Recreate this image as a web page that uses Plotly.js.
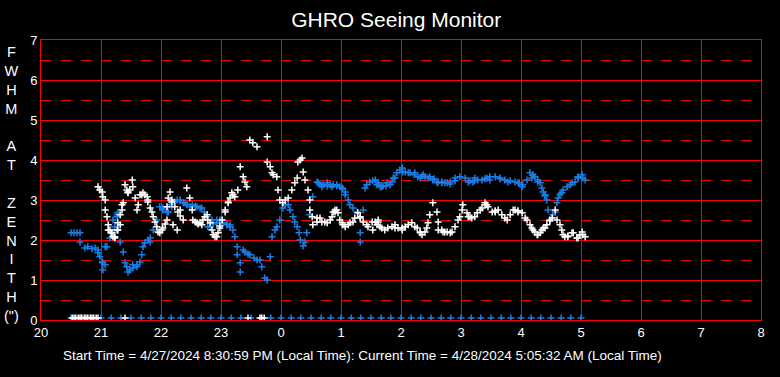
<!DOCTYPE html>
<html>
<head>
<meta charset="utf-8">
<script src="https://cdn.plot.ly/plotly-3.0.1.min.js"></script>
<style>html,body{margin:0;padding:0;background:#000;}#chart{width:780px;height:377px;}</style>
</head>
<body>
<div id="chart"></div>
<script>
// Hours since 20:00 continue past midnight (24 = 0h, 29 = 5h)
var blueTime = [20.5,20.55,20.6,20.65,20.65,20.73,20.78,20.85,20.9,20.95,20.95,20.98,21.03,21.03,21.07,21.1,21.15,21.2,21.23,21.27,21.28,21.32,21.37,21.4,21.45,21.48,21.53,21.6,21.65,21.68,21.73,21.78,21.82,21.87,21.93,21.98,22.03,22.1,22.15,22.22,22.27,22.32,22.37,22.43,22.48,22.57,22.65,22.72,22.77,22.82,22.87,22.93,22.98,23.03,23.1,23.15,23.2,23.23,23.27,23.27,23.32,23.32,23.37,23.4,23.45,23.48,23.55,23.6,23.65,23.68,23.73,23.77,23.82,23.85,23.9,23.93,23.98,24.03,24.07,24.12,24.15,24.2,24.23,24.27,24.3,24.32,24.37,24.4,24.43,24.48,24.53,24.6,24.65,24.7,24.77,24.82,24.87,24.93,24.98,25.03,25.07,25.12,25.15,25.2,25.27,25.32,25.32,25.37,25.4,25.43,25.48,25.53,25.57,25.62,25.68,25.75,25.82,25.9,25.98,26.07,26.15,26.22,26.28,26.35,26.4,26.48,26.55,26.62,26.68,26.73,26.82,26.9,26.98,27.07,27.15,27.22,27.28,27.35,27.4,27.48,27.57,27.65,27.73,27.82,27.9,27.97,28.03,28.1,28.15,28.2,28.23,28.28,28.32,28.37,28.4,28.43,28.45,28.52,28.57,28.62,28.65,28.7,28.77,28.82,28.9,28.95,29.02,29.07,
  25.6,25.65,25.7,25.77,25.85,25.87,25.93,26.02,26.03,26.12,26.23,26.32,26.37,26.45,26.53,26.6,26.68,26.77,26.82,26.9,27.12,27.2,27.23,27.43,27.48,27.65,27.78,27.95,28.02,28.18,28.28,28.35,28.4,28.53,28.6,28.68,28.85,28.95,29.03,24.62,24.68,24.77,24.85,24.93,25.02,25.07,22.03,22.12,22.18,22.23,22.32,22.4,22.52,22.6,22.68,22.78,22.85,22.93,22.98,23.1,23.15,21.2,21.27,21.28,21.07,21.02,21.43,21.53,21.6,21.7,21.82];
var blueFwhm = [2.18,2.18,2.18,2.18,1.95,1.8,1.83,1.78,1.8,1.75,1.68,1.58,1.43,1.25,1.38,1.83,2.05,2.2,2.33,2.58,2.68,1.95,1.7,1.43,1.2,1.25,1.3,1.38,1.45,1.63,1.93,2.0,2.05,2.25,2.5,2.83,2.75,2.7,2.88,2.95,3.0,2.98,2.93,2.88,2.83,2.85,2.8,2.7,2.58,2.33,2.4,2.5,2.48,2.43,2.4,2.38,2.25,2.08,1.83,1.63,1.43,1.2,1.75,1.7,1.65,1.63,1.55,1.5,1.5,1.33,1.05,1.0,1.58,2.08,2.25,2.33,2.5,2.8,2.88,2.88,2.75,2.58,2.45,2.33,2.18,2.0,1.85,1.95,2.18,2.63,3.08,3.45,3.4,3.38,3.35,3.38,3.38,3.35,3.33,3.28,3.2,3.0,2.88,2.8,2.7,2.18,1.95,2.75,3.3,3.38,3.45,3.48,3.5,3.43,3.33,3.35,3.38,3.55,3.75,3.7,3.68,3.63,3.58,3.6,3.58,3.58,3.53,3.45,3.43,3.43,3.4,3.48,3.58,3.55,3.48,3.48,3.5,3.5,3.53,3.58,3.58,3.53,3.5,3.48,3.45,3.43,3.38,3.5,3.68,3.63,3.58,3.5,3.43,3.2,3.1,3.0,2.75,2.55,2.7,3.05,3.15,3.25,3.33,3.38,3.45,3.55,3.63,3.5,
  3.38,3.33,3.35,3.43,3.45,3.55,3.68,3.8,3.7,3.68,3.68,3.55,3.63,3.55,3.5,3.43,3.45,3.43,3.45,3.55,3.45,3.45,3.55,3.55,3.5,3.55,3.45,3.43,3.33,3.55,3.45,3.3,3.13,2.63,2.93,3.18,3.43,3.58,3.55,3.43,3.33,3.43,3.33,3.38,3.3,3.13,2.8,2.7,2.83,2.95,3.0,2.93,2.88,2.83,2.8,2.33,2.5,2.43,2.5,2.38,2.33,2.5,2.63,2.25,1.83,1.45,1.33,1.38,1.33,1.83,1.95];

var whiteTime = [20.95,20.98,21.02,21.03,21.07,21.07,21.1,21.12,21.15,21.17,21.2,21.23,21.27,21.28,21.32,21.35,21.37,21.4,21.43,21.45,21.48,21.52,21.53,21.57,21.62,21.65,21.7,21.73,21.78,21.82,21.87,21.9,21.93,21.98,22.03,22.07,22.1,22.12,22.15,22.18,22.23,22.28,22.27,22.32,22.37,22.43,22.48,22.52,22.57,22.62,22.65,22.7,22.73,22.78,22.85,22.9,22.95,22.98,23.02,23.07,23.12,23.18,23.23,23.28,23.32,23.37,23.4,23.43,23.48,23.53,23.6,23.77,23.77,23.82,23.85,23.87,23.93,23.95,23.98,24.03,24.07,24.12,24.18,24.23,24.27,24.28,24.32,24.35,24.37,24.4,24.45,24.48,24.48,24.52,24.53,24.6,24.65,24.73,24.82,24.87,24.9,24.93,24.98,25.03,25.12,25.2,25.28,25.32,25.37,25.43,25.52,25.6,25.62,25.68,25.73,25.78,25.85,25.9,25.95,26.02,26.07,26.12,26.18,26.27,26.32,26.35,26.4,26.45,26.48,26.53,26.6,26.62,26.68,26.73,26.77,26.85,26.9,26.95,27.02,27.03,27.1,27.15,27.18,27.27,27.35,27.4,27.43,27.52,27.57,27.62,27.68,27.73,27.82,27.9,27.95,28.02,28.1,28.15,28.18,28.23,28.27,28.32,28.35,28.4,28.43,28.48,28.52,28.57,28.6,28.65,28.68,28.73,28.78,28.85,28.93,28.98,29.02,29.07,
  25.57,25.65,25.9,26.02,26.23,26.32,26.43,26.62,26.7,26.82,26.98,27.12,27.23,27.32,27.4,27.45,27.57,27.77,27.87,27.95,28.07,28.2,28.28,28.37,28.48,28.7,28.78,28.87,28.95,29.03,24.6,24.68,24.77,24.85,24.9,24.95,25.02,25.07,25.15,25.23,25.32,25.45,25.53,25.62,21.12,21.18,21.23,21.28,21.32,21.35,21.45,21.6,21.68,21.77,21.78,21.85,21.95,22.02,22.1,22.18,22.32,22.2,22.53,22.6,22.68,22.77,22.82,22.87,22.93,22.98,23.07,23.12,23.15,23.2];
var whiteFwhm = [3.33,3.25,3.2,3.08,3.0,2.75,2.58,2.38,2.25,2.18,2.08,2.05,2.25,2.43,2.63,2.88,2.93,3.38,3.25,3.2,3.25,3.5,3.33,3.05,2.88,3.13,3.18,3.13,3.0,2.8,2.58,2.45,2.33,2.18,2.3,2.4,2.5,3.05,3.2,3.0,2.83,2.7,2.25,2.6,2.5,3.3,3.05,2.75,2.45,2.4,2.43,2.5,2.58,2.5,2.25,2.08,2.18,2.35,2.5,2.75,2.95,3.18,3.08,3.25,3.83,3.58,3.45,3.33,4.5,4.43,4.33,4.58,3.95,3.83,3.68,3.63,3.58,3.25,3.0,2.93,3.0,3.05,3.25,3.43,3.55,3.95,4.0,4.05,3.7,3.5,3.25,3.0,2.75,2.58,2.38,2.45,2.55,2.45,2.5,2.7,2.75,2.75,2.5,2.38,2.38,2.45,2.68,2.55,2.45,2.38,2.45,2.38,2.45,2.3,2.25,2.3,2.33,2.3,2.3,2.3,2.33,2.38,2.43,2.3,2.2,2.13,2.2,2.43,2.63,2.93,2.7,2.45,2.25,2.2,2.2,2.2,2.33,2.5,2.75,2.88,2.68,2.58,2.55,2.68,2.8,2.88,2.88,2.7,2.73,2.75,2.63,2.55,2.63,2.75,2.73,2.68,2.5,2.38,2.3,2.2,2.13,2.18,2.25,2.3,2.38,2.48,2.55,2.75,2.5,2.38,2.25,2.08,2.1,2.18,2.05,2.13,2.2,2.08,
  2.45,2.33,2.38,2.25,2.33,2.18,2.3,2.25,2.2,2.18,2.58,2.58,2.58,2.75,2.93,2.83,2.7,2.5,2.75,2.7,2.55,2.25,2.13,2.3,2.5,2.13,2.08,2.18,2.05,2.13,2.55,2.45,2.43,2.58,2.7,2.68,2.43,2.33,2.43,2.55,2.58,2.33,2.25,2.5,2.25,2.18,2.08,2.25,2.38,2.75,3.18,2.75,3.13,3.08,2.95,2.7,2.2,2.25,2.83,2.95,2.75,2.38,2.5,2.43,2.38,2.63,2.43,2.13,2.08,2.3,2.7,2.93,3.05,3.13];

// Rejected / zero readings along the bottom
var blueZeroTime = [20.5,20.67,20.83,21.0,21.17,21.33,21.5,21.67,21.83,22.0,22.17,22.33,22.5,22.67,22.83,23.0,23.17,23.33,23.5,23.67,23.83,24.0,24.17,24.33,24.5,24.67,24.83,25.0,25.17,25.33,25.5,25.67,25.83,26.0,26.17,26.33,26.5,26.67,26.83,27.0,27.17,27.33,27.5,27.67,27.83,28.0,28.17,28.33,28.5,28.67,28.83,29.0];
var blueZeroVal  = [0.05,0.05,0.05,0.05,0.05,0.05,0.05,0.05,0.05,0.05,0.05,0.05,0.05,0.05,0.05,0.05,0.05,0.05,0.05,0.05,0.05,0.05,0.05,0.05,0.05,0.05,0.05,0.05,0.05,0.05,0.05,0.05,0.05,0.05,0.05,0.05,0.05,0.05,0.05,0.05,0.05,0.05,0.05,0.05,0.05,0.05,0.05,0.05,0.05,0.05,0.05,0.05];
var whiteZeroTime = [20.52,20.55,20.58,20.62,20.65,20.68,20.72,20.75,20.78,20.82,20.85,20.88,20.92,20.95,21.4,23.45,23.65,23.68,23.72];
var whiteZeroVal  = [0.05,0.05,0.05,0.05,0.05,0.05,0.05,0.05,0.05,0.05,0.05,0.05,0.05,0.05,0.05,0.05,0.05,0.05,0.05];

var tickVals = [20,21,22,23,24,25,26,27,28,29,30,31,32];
var tickText = ['20','21','22','23','0','1','2','3','4','5','6','7','8'];

var RED = '#ff0000';
var BLUE = '#1b7fe8';
function crossTrace(x, y, color) {
  return {x: x, y: y, type: 'scatter', mode: 'markers', hoverinfo: 'skip',
    marker: {symbol: 'cross-thin-open', size: 5, color: color, line: {color: color, width: 1.5}}};
}

var data = [
  crossTrace(blueZeroTime, blueZeroVal, BLUE),
  crossTrace(whiteZeroTime, whiteZeroVal, '#ffffff'),
  crossTrace(blueTime, blueFwhm, BLUE),
  crossTrace(whiteTime, whiteFwhm, '#ffffff')
];

var layout = {
  width: 780, height: 377,
  paper_bgcolor: '#000000', plot_bgcolor: '#000000',
  margin: {l: 41, r: 19, t: 40, b: 57},
  showlegend: false,
  font: {family: '"Liberation Sans", Arial, sans-serif', color: '#ffffff', size: 13},
  title: {text: 'GHRO Seeing Monitor', font: {size: 21, color: '#ffffff'},
          x: 0.508, xref: 'container', xanchor: 'center', y: 0.947, yref: 'container', yanchor: 'middle'},
  xaxis: {range: [20, 32], tickmode: 'array', tickvals: tickVals, ticktext: tickText,
          showgrid: true, gridcolor: RED, gridwidth: 1, zeroline: false,
          showline: true, linecolor: RED, linewidth: 1, mirror: true,
          ticks: '', tickfont: {size: 13, color: '#ffffff'}, fixedrange: true},
  yaxis: {range: [0, 7], dtick: 1, tick0: 0,
          showgrid: true, gridcolor: RED, gridwidth: 1, zeroline: false,
          showline: true, linecolor: RED, linewidth: 1, mirror: true,
          minor: {dtick: 0.5, tick0: 0, showgrid: true, gridcolor: RED, gridwidth: 1, griddash: '10px,10px'},
          ticks: '', tickfont: {size: 13, color: '#ffffff'}, fixedrange: true},
  annotations: [
    {text: 'F<br>W<br>H<br>M<br> <br>A<br>T<br> <br>Z<br>E<br>N<br>I<br>T<br>H<br>(")',
     xref: 'paper', yref: 'paper', x: -0.0403, y: 0.4875, xanchor: 'center', yanchor: 'middle',
     showarrow: false, align: 'center', font: {size: 14.5, color: '#ffffff'}},
    {text: 'Start Time = 4/27/2024 8:30:59 PM (Local Time): Current Time = 4/28/2024 5:05:32 AM (Local Time)',
     xref: 'paper', yref: 'paper', x: 0.446, y: -0.125, xanchor: 'center', yanchor: 'middle',
     showarrow: false, font: {size: 13.5, color: '#ffffff'}}
  ]
};

Plotly.newPlot('chart', data, layout, {displayModeBar: false, staticPlot: true});
</script>
</body>
</html>
